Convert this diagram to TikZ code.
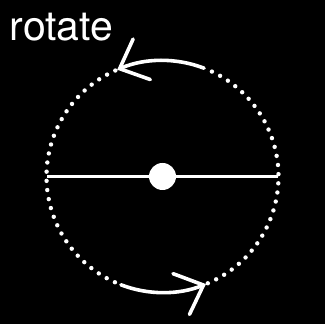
\documentclass[tikz,border=0pt]{standalone}
\usepackage{fontspec}
\setmainfont{TeX Gyre Heros}
\usetikzlibrary{arrows.meta}
\begin{document}
\begin{tikzpicture}[x=1pt,y=1pt,
  dotline/.style={white,line width=4.4pt,line cap=round,dash pattern=on 0pt off 9.2pt},
  arcline/.style={white,line width=3.6pt,line cap=round,-{Straight Barb[length=24pt,width=44pt,line cap=round]}},
  axisline/.style={white,line width=3pt}]
\fill[black] (0,0) rectangle (325,324);
\useasboundingbox (0,0) rectangle (325,324);
\node[anchor=base west,inner sep=0pt,text=white,font=\fontsize{41}{41}\selectfont] (t) at (9.5,283) {rotate};
\coordinate (c) at (162.5,147.5);
\coordinate (l) at (47,147.5);
\coordinate (r) at (278,147.5);
\draw[dotline] ([shift={(-67:116)}]c) arc[start angle=-67,end angle=67,radius=116];
\draw[dotline] ([shift={(114:116)}]c) arc[start angle=114,end angle=247,radius=116];
\draw[arcline] ([shift={(69:116)}]c) arc[start angle=69,end angle=113,radius=116];
\draw[arcline] ([shift={(-111:116)}]c) arc[start angle=-111,end angle=-68,radius=116];
\draw[axisline] (l) -- (r);
\node[circle,fill=white,minimum size=27pt,inner sep=0pt] (dot) at (c) {};
\end{tikzpicture}
\end{document}
